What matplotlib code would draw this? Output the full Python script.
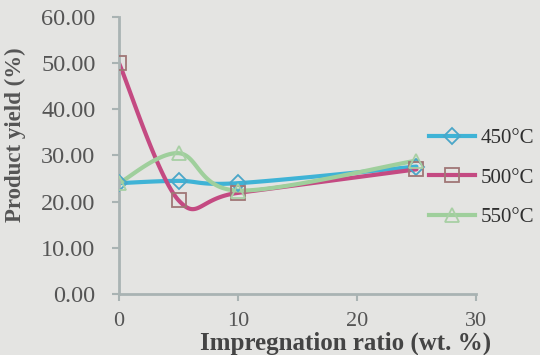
import numpy as np
import matplotlib.pyplot as plt
from matplotlib.lines import Line2D

# impregnation ratio (wt. %) and product yield (%) per temperature
ratio = [0, 5, 10, 25]
yield_450 = [24.0, 24.5, 24.0, 27.6]
yield_500 = [50.0, 20.3, 21.9, 27.0]
yield_550 = [24.0, 30.5, 22.4, 28.9]
series_labels = ["450°C", "500°C", "550°C"]
y_ticks = [0, 10, 20, 30, 40, 50, 60]
x_ticks = [0, 10, 20, 30]

plt.rcParams["font.family"] = ["Liberation Serif", "DejaVu Serif"]

bg = "#e4e4e2"
fig = plt.figure(figsize=(5.4, 3.55), dpi=100, facecolor=bg)
ax = fig.add_axes([0.2204, 0.172, 0.661, 0.780], facecolor=bg)
ax.set_xlim(0, 30)
ax.set_ylim(0, 60)


def smooth(ax, x, y, n=40):
    # Excel-like smoothed line, built in display space
    pts = ax.transData.transform(np.column_stack([x, y]))
    p = np.vstack([pts[0], pts, pts[-1]])
    t = np.linspace(0, 1, n)[:, None]
    segs = []
    for i in range(1, len(p) - 2):
        p0, p1, p2, p3 = p[i - 1], p[i], p[i + 1], p[i + 2]
        c1 = p1 + (p2 - p0) / 6
        c2 = p2 - (p3 - p1) / 6
        segs.append((1 - t) ** 3 * p1 + 3 * (1 - t) ** 2 * t * c1
                    + 3 * (1 - t) * t ** 2 * c2 + t ** 3 * p2)
    curve = ax.transData.inverted().transform(np.vstack(segs))
    return curve[:, 0], curve[:, 1]


styles = [
    (yield_450, "#3fb3d6", "D", "#4aa6c8", 8),
    (yield_500, "#c44a82", "s", "#a07676", 10),
    (yield_550, "#9fcf9c", "^", "#a8cfa4", 10),
]

handles = []
for (vals, col, mk, mcol, ms), lab in zip(styles, series_labels):
    sx, sy = smooth(ax, ratio, vals)
    ax.plot(sx, sy, color=col, lw=3, solid_capstyle="round", zorder=2)
    ax.plot(ratio, vals, ls="none", marker=mk, ms=ms, mfc="none",
            mec=mcol, mew=1.3, zorder=3)
    handles.append(Line2D([], [], color=col, lw=3, marker=mk, ms=ms,
                          mfc="none", mec=mcol, mew=1.3))

for s in ["top", "right"]:
    ax.spines[s].set_visible(False)
for s in ["left", "bottom"]:
    ax.spines[s].set_color("#a9b3b3")
    ax.spines[s].set_linewidth(2)

ax.set_yticks(y_ticks)
ax.set_yticklabels([f"{v:.2f}" for v in y_ticks])
ax.set_xticks(x_ticks)
ax.tick_params(axis="both", colors="#a9b3b3", width=1.5, length=5,
               labelcolor="#555555", labelsize=17.5)
ax.tick_params(axis="y", pad=12)
ax.tick_params(axis="x", pad=8, labelsize=16)

ax.set_ylabel("Product yield (%)", fontsize=16.5, fontweight="bold",
              color="#555555")
ax.yaxis.set_label_coords(-0.26, 0.574)
ax.set_xlabel("Impregnation ratio (wt. %)", fontsize=18, fontweight="bold",
              color="#444444")
ax.xaxis.set_label_coords(0.636, -0.135)

leg = fig.legend(handles, series_labels, loc="center left",
                 bbox_to_anchor=(0.776, 0.499), frameon=False, fontsize=15,
                 borderpad=0, handlelength=2.2, handletextpad=0.25,
                 labelspacing=0.95, labelcolor="#2e2e2e")

fig.savefig("out.png", dpi=100, facecolor=bg)
